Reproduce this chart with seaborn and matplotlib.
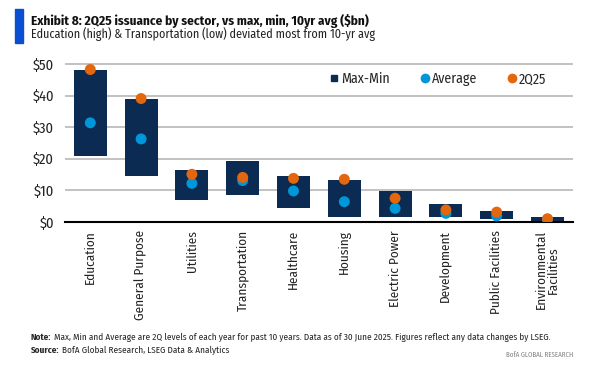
import numpy as np
import pandas as pd
import seaborn as sns
import matplotlib.pyplot as plt
from matplotlib.lines import Line2D
from matplotlib.patches import Rectangle

sectors = ["Education", "General Purpose", "Utilities", "Transportation", "Healthcare",
           "Housing", "Electric Power", "Development", "Public Facilities",
           "Environmental\nFacilities"]
max_vals = [48.1, 38.9, 16.5, 19.3, 14.6, 13.3, 9.8, 5.7, 3.5, 1.7]
min_vals = [20.9, 14.7, 7.0, 8.5, 4.5, 1.7, 1.7, 1.7, 1.0, 0.2]
avg_vals = [31.4, 26.3, 12.2, 13.1, 9.8, 6.4, 4.3, 2.7, 1.9, 0.8]
q2_25 = [48.3, 39.1, 15.1, 14.1, 13.8, 13.5, 7.5, 3.8, 3.1, 1.0]
y_ticks = [0, 10, 20, 30, 40, 50]

NAVY = "#0C2B52"
CYAN = "#0096DA"
ORANGE = "#E2670F"

df = pd.DataFrame({"sector": sectors, "max": max_vals, "min": min_vals,
                   "avg": avg_vals, "q2": q2_25})
df["range"] = df["max"] - df["min"]

sns.set_style("white")
plt.rcParams["font.family"] = ["Fira Sans Condensed", "Archivo Narrow", "DejaVu Sans"]

fig = plt.figure(figsize=(5.9, 3.78), dpi=100)
ax = fig.add_axes([0.110, 0.413, 0.861, 0.434])

# floating bars max-min
sns.barplot(data=df, x="sector", y="range", bottom=df["min"], color=NAVY,
            width=0.65, saturation=1, linewidth=0, ax=ax, zorder=2)
x = np.arange(len(sectors))
sns.scatterplot(x=x, y=df["avg"], color=CYAN, s=62, edgecolor="none", ax=ax, zorder=3)
sns.scatterplot(x=x, y=df["q2"], color=ORANGE, s=62, edgecolor="none", ax=ax, zorder=4)

ax.set_ylim(0, 52)
ax.set_xlim(-0.5, len(sectors) - 0.5)
ax.set_yticks(y_ticks)
ax.set_yticklabels([f"${v}" for v in y_ticks], fontsize=10.5, color="#222222")
ax.yaxis.grid(True, color="#BDBDBD", linewidth=1.3, zorder=0)
ax.set_axisbelow(True)
ax.set_xticks(x)
ax.set_xticklabels(sectors, rotation=90, fontsize=9.5, color="#222222",
                   ha="center", va="top", multialignment="center", linespacing=1.0)
ax.tick_params(axis="x", length=0, pad=6)
ax.tick_params(axis="y", length=0, pad=8)
ax.set_xlabel("")
ax.set_ylabel("")
for s in ["left", "right", "top"]:
    ax.spines[s].set_visible(False)
ax.spines["bottom"].set_color("black")
ax.spines["bottom"].set_linewidth(1.5)

handles = [
    Line2D([], [], marker="s", color=NAVY, linestyle="none", markersize=4.5),
    Line2D([], [], marker="o", color=CYAN, linestyle="none", markersize=6),
    Line2D([], [], marker="o", color=ORANGE, linestyle="none", markersize=6),
]
leg = ax.legend(handles, ["Max-Min", "Average", "2Q25"], ncol=3, frameon=False,
                loc="center right", bbox_to_anchor=(0.947, 0.87), fontsize=10,
                handletextpad=0.0, columnspacing=2.0, handlelength=1.0,
                borderpad=0, borderaxespad=0)

# title block
fig.add_artist(Rectangle((0.0254, 0.886), 0.0136, 0.090, transform=fig.transFigure,
                         color="#0A4FD1"))
fig.text(0.052, 0.945, "Exhibit 8: 2Q25 issuance by sector, vs max, min, 10yr avg ($bn)",
         fontsize=9.5, fontweight="bold", color="#111111", va="center")
fig.text(0.052, 0.910, "Education (high) & Transportation (low) deviated most from 10-yr avg",
         fontsize=8.7, color="#222222", va="center")

# notes
note = fig.text(0.052, 0.108, "Note:", fontsize=6.6, fontweight="bold", va="center")
ax.annotate("Max, Min and Average are 2Q levels of each year for past 10 years. "
            "Data as of 30 June 2025. Figures reflect any data changes by LSEG.",
            xy=(1, 0.5), xycoords=note, xytext=(2, 0), textcoords="offset points",
            fontsize=6.6, va="center", annotation_clip=False)
src = fig.text(0.052, 0.074, "Source:", fontsize=6.6, fontweight="bold", va="center")
ax.annotate("BofA Global Research, LSEG Data & Analytics",
            xy=(1, 0.5), xycoords=src, xytext=(2, 0), textcoords="offset points",
            fontsize=6.6, va="center", annotation_clip=False)
fig.text(0.971, 0.061, "BofA GLOBAL RESEARCH", fontsize=5, color="#808080",
         ha="right", va="center")

fig.savefig("out.png", dpi=100)
